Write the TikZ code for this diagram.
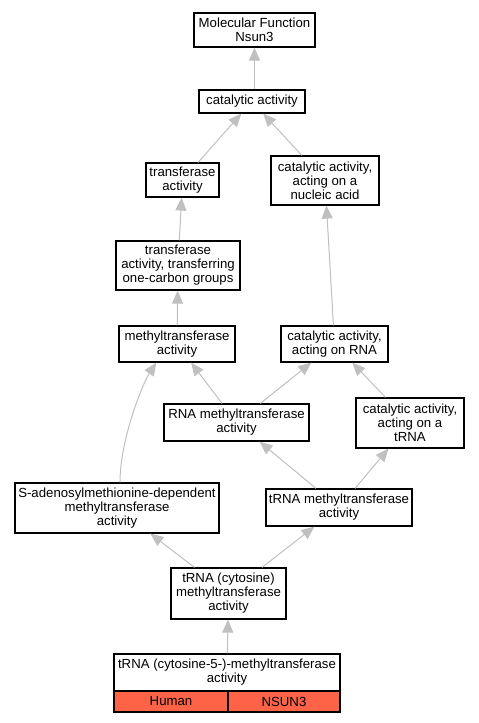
\documentclass[tikz,border=0pt]{standalone}
\usepackage{fontspec}
\setmainfont{Liberation Sans}
\usetikzlibrary{arrows.meta}
\definecolor{edgegray}{RGB}{192,192,192}
\definecolor{tomatofill}{RGB}{255,99,71}
\tikzset{
  term/.style={draw=black, line width=1.2pt, fill=white, inner sep=0pt, align=center,
    font=\fontsize{13.2}{14}\selectfont},
  cell/.style={term, fill=tomatofill},
  isa/.style={draw=edgegray, line width=1pt, -{Triangle[length=13pt,width=11pt]}},
}
\begin{document}
\begin{tikzpicture}[x=1pt,y=-1pt]
\useasboundingbox (0,0) rectangle (479,723);
\node[term, minimum width=121pt, minimum height=34pt] (mf) at (254.5,30) {Molecular Function\\Nsun3};
\node[term, minimum width=106pt, minimum height=23pt] (cat) at (252,101.5) {catalytic activity};
\node[term, minimum width=73pt, minimum height=34pt] (tra) at (182.5,180) {transferase\\activity};
\node[term, minimum width=108pt, minimum height=49pt] (nuc) at (325,180.5) {catalytic activity,\\acting on a\\nucleic acid};
\node[term, minimum width=124pt, minimum height=49pt] (one) at (178,265.5) {transferase\\activity, transferring\\one-carbon groups};
\node[term, minimum width=116pt, minimum height=36pt] (meth) at (177,344) {methyltransferase\\activity};
\node[term, minimum width=107pt, minimum height=36pt] (rna) at (334.5,344) {catalytic activity,\\acting on RNA};
\node[term, minimum width=145pt, minimum height=37pt] (rmeth) at (236.5,422.5) {RNA methyltransferase\\activity};
\node[term, minimum width=108pt, minimum height=50pt] (trna) at (410,423) {catalytic activity,\\acting on a\\tRNA};
\node[term, minimum width=204pt, minimum height=50pt] (sam) at (117,508) {S-adenosylmethionine-dependent\\methyltransferase\\activity};
\node[term, minimum width=146pt, minimum height=37pt] (tmeth) at (339,507.5) {tRNA methyltransferase\\activity};
\node[term, minimum width=115pt, minimum height=51pt] (cyt) at (228.5,593.5) {tRNA (cytosine)\\methyltransferase\\activity};
\node[term, minimum width=226pt, minimum height=37pt] (c5) at (227,672.5) {tRNA (cytosine-5-)-methyltransferase\\activity};
\node[cell, minimum width=114pt, minimum height=21pt] (human) at (171,701.5) {Human};
\node[cell, minimum width=112pt, minimum height=21pt] (gene) at (284,701.5) {NSUN3};

\draw[isa] (cat.north -| mf) -- (mf.south);
\draw[isa] (tra) -- (cat);
\draw[isa] (nuc) -- (cat);
\draw[isa] (one) -- (tra);
\draw[isa] (meth) -- (one);
\draw[isa] (rna) -- (nuc);
\draw[isa] (rmeth) -- (meth);
\draw[isa] (rmeth) -- (rna);
\draw[isa] (trna) -- (rna);
\draw[isa] ([xshift=3pt]sam.north) .. controls +(0,-45) and +(-12,18) .. (meth.222);
\draw[isa] (tmeth) -- (rmeth);
\draw[isa] (tmeth) -- (trna);
\draw[isa] (cyt) -- (sam);
\draw[isa] (cyt) -- (tmeth);
\draw[isa] (c5) -- (cyt);
\end{tikzpicture}
\end{document}
